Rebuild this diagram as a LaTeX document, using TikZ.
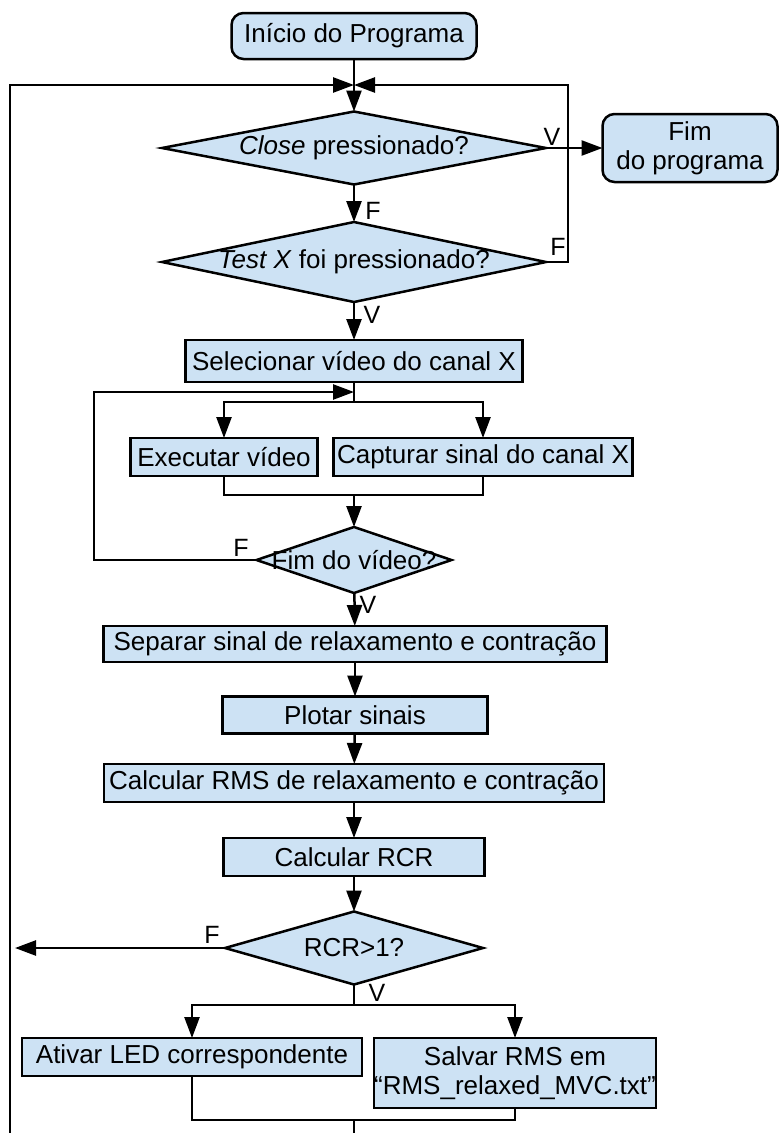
\documentclass[tikz,border=0pt]{standalone}
\usepackage{fontspec}
\setmainfont{Liberation Sans}
\usepackage{tikz}
\usetikzlibrary{shapes.geometric,arrows.meta}
\definecolor{boxblue}{RGB}{205,226,244}

\begin{document}
\begin{tikzpicture}[x=1pt,y=-1pt,
    every node/.style={font=\fontsize{26}{29}\selectfont},
    proc/.style={draw,line width=2.5pt,fill=boxblue,inner sep=0pt,outer sep=0pt},
    term/.style={proc,rounded corners=12pt,align=center},
    dec/.style={proc,diamond,label=center:{#1}},
    yn/.style={font=\fontsize{25}{28}\selectfont,inner sep=0pt},
    flow/.style={line width=2.5pt,-{Triangle[length=21pt,width=15pt]}},
    line/.style={line width=2.5pt}]
            \useasboundingbox (0,0) rectangle (779,1133);

            \node[term,minimum width=245pt,minimum height=46pt] (inicio) at (354,36) {Início do Programa};
            \node[dec={\textit{Close} pressionado?},minimum width=384pt,minimum height=73pt] (close) at (354,148) {};
            \node[term,minimum width=175pt,minimum height=68pt] (fim) at (690,148) {Fim\\do programa};
            \node[dec={\textit{Test X} foi pressionado?},minimum width=384pt,minimum height=80pt] (testx) at (354,262) {};
            \node[proc,minimum width=337pt,minimum height=42pt] (selec) at (354,361) {Selecionar vídeo do canal X};
            \node[proc,minimum width=187pt,minimum height=38pt] (exec) at (224,457) {Executar vídeo};
            \node[proc,minimum width=299pt,minimum height=38pt] (capt) at (483,457) {Capturar sinal do canal X};
            \node[dec={Fim do vídeo?},minimum width=195pt,minimum height=66pt] (fimvid) at (354,560) {};
            \node[proc,minimum width=503pt,minimum height=36pt] (separ) at (355,644) {Separar sinal de relaxamento e contração};
            \node[proc,minimum width=265pt,minimum height=37pt] (plotar) at (355,715) {Plotar sinais};
            \node[proc,minimum width=500pt,minimum height=38pt] (calcrms) at (354,783) {Calcular RMS de relaxamento e contração};
            \node[proc,minimum width=261pt,minimum height=38pt] (calcrcr) at (354,857) {Calcular RCR};
            \node[dec={RCR>1?},minimum width=258pt,minimum height=73pt] (rcr) at (354,948) {};
            \node[proc,minimum width=340pt,minimum height=38pt] (ativar) at (192,1057) {Ativar LED correspondente};
            \node[proc,minimum width=282pt,minimum height=70pt,align=center] (salvar) at (515,1073) {Salvar RMS em\\“RMS\_relaxed\_MVC.txt”};

            \node[yn] (vclose) at (552,137) {V};
            \node[yn] (fclose) at (373,211) {F};
            \node[yn] (ftest) at (558,247) {F};
            \node[yn] (vtest) at (372,315) {V};
            \node[yn] (ffim) at (241,548) {F};
            \node[yn] (vfim) at (368,605) {V};
            \node[yn] (frcr) at (212,935) {F};
            \node[yn] (vrcr) at (377,993) {V};

            \coordinate (jn) at (354,85);
            \coordinate (lt) at (10,85);
            \coordinate (lb) at (10,1133);
            \coordinate (rt) at (568,85);
            \coordinate (sp1) at (354,402);
            \coordinate (lp) at (354,392);
            \coordinate (lpl) at (94,392);
            \coordinate (mg1) at (354,495);
            \coordinate (lf) at (15,948);
            \coordinate (sp2) at (354,1005);
            \coordinate (mg2) at (354,1120);
            \coordinate (bt) at (354,1133);

            \draw[flow] (inicio) -- (close);
            \draw[flow] (lb) -- (lt) -- (jn);
            \draw[flow] (testx.east) -| (rt) -- (jn);
            \draw[flow] (close.east) -- (fim.west);
            \draw[flow] (close) -- (testx);
            \draw[flow] (testx) -- (selec);
            \draw[line] (selec.south) -- (sp1);
            \draw[flow] (sp1) -| (exec.north);
            \draw[flow] (sp1) -| (capt.north);
            \draw[flow] (fimvid.west) -| (lpl) -- (lp);
            \draw[line] (exec.south) |- (mg1) -| (capt.south);
            \draw[flow] (mg1) -- (fimvid);
            \draw[flow] (fimvid) -- (separ);
            \draw[flow] (separ) -- (plotar);
            \draw[flow] (plotar) -- (calcrms);
            \draw[flow] (calcrms) -- (calcrcr);
            \draw[flow] (calcrcr) -- (rcr);
            \draw[flow] (rcr.west) -- (lf);
            \draw[line] (rcr.south) -- (sp2);
            \draw[flow] (sp2) -| (ativar.north);
            \draw[flow] (sp2) -| (salvar.north);
            \draw[line] (ativar.south) |- (mg2) -| (salvar.south);
            \draw[line] (mg2) -- (bt);
\end{tikzpicture}
\end{document}
